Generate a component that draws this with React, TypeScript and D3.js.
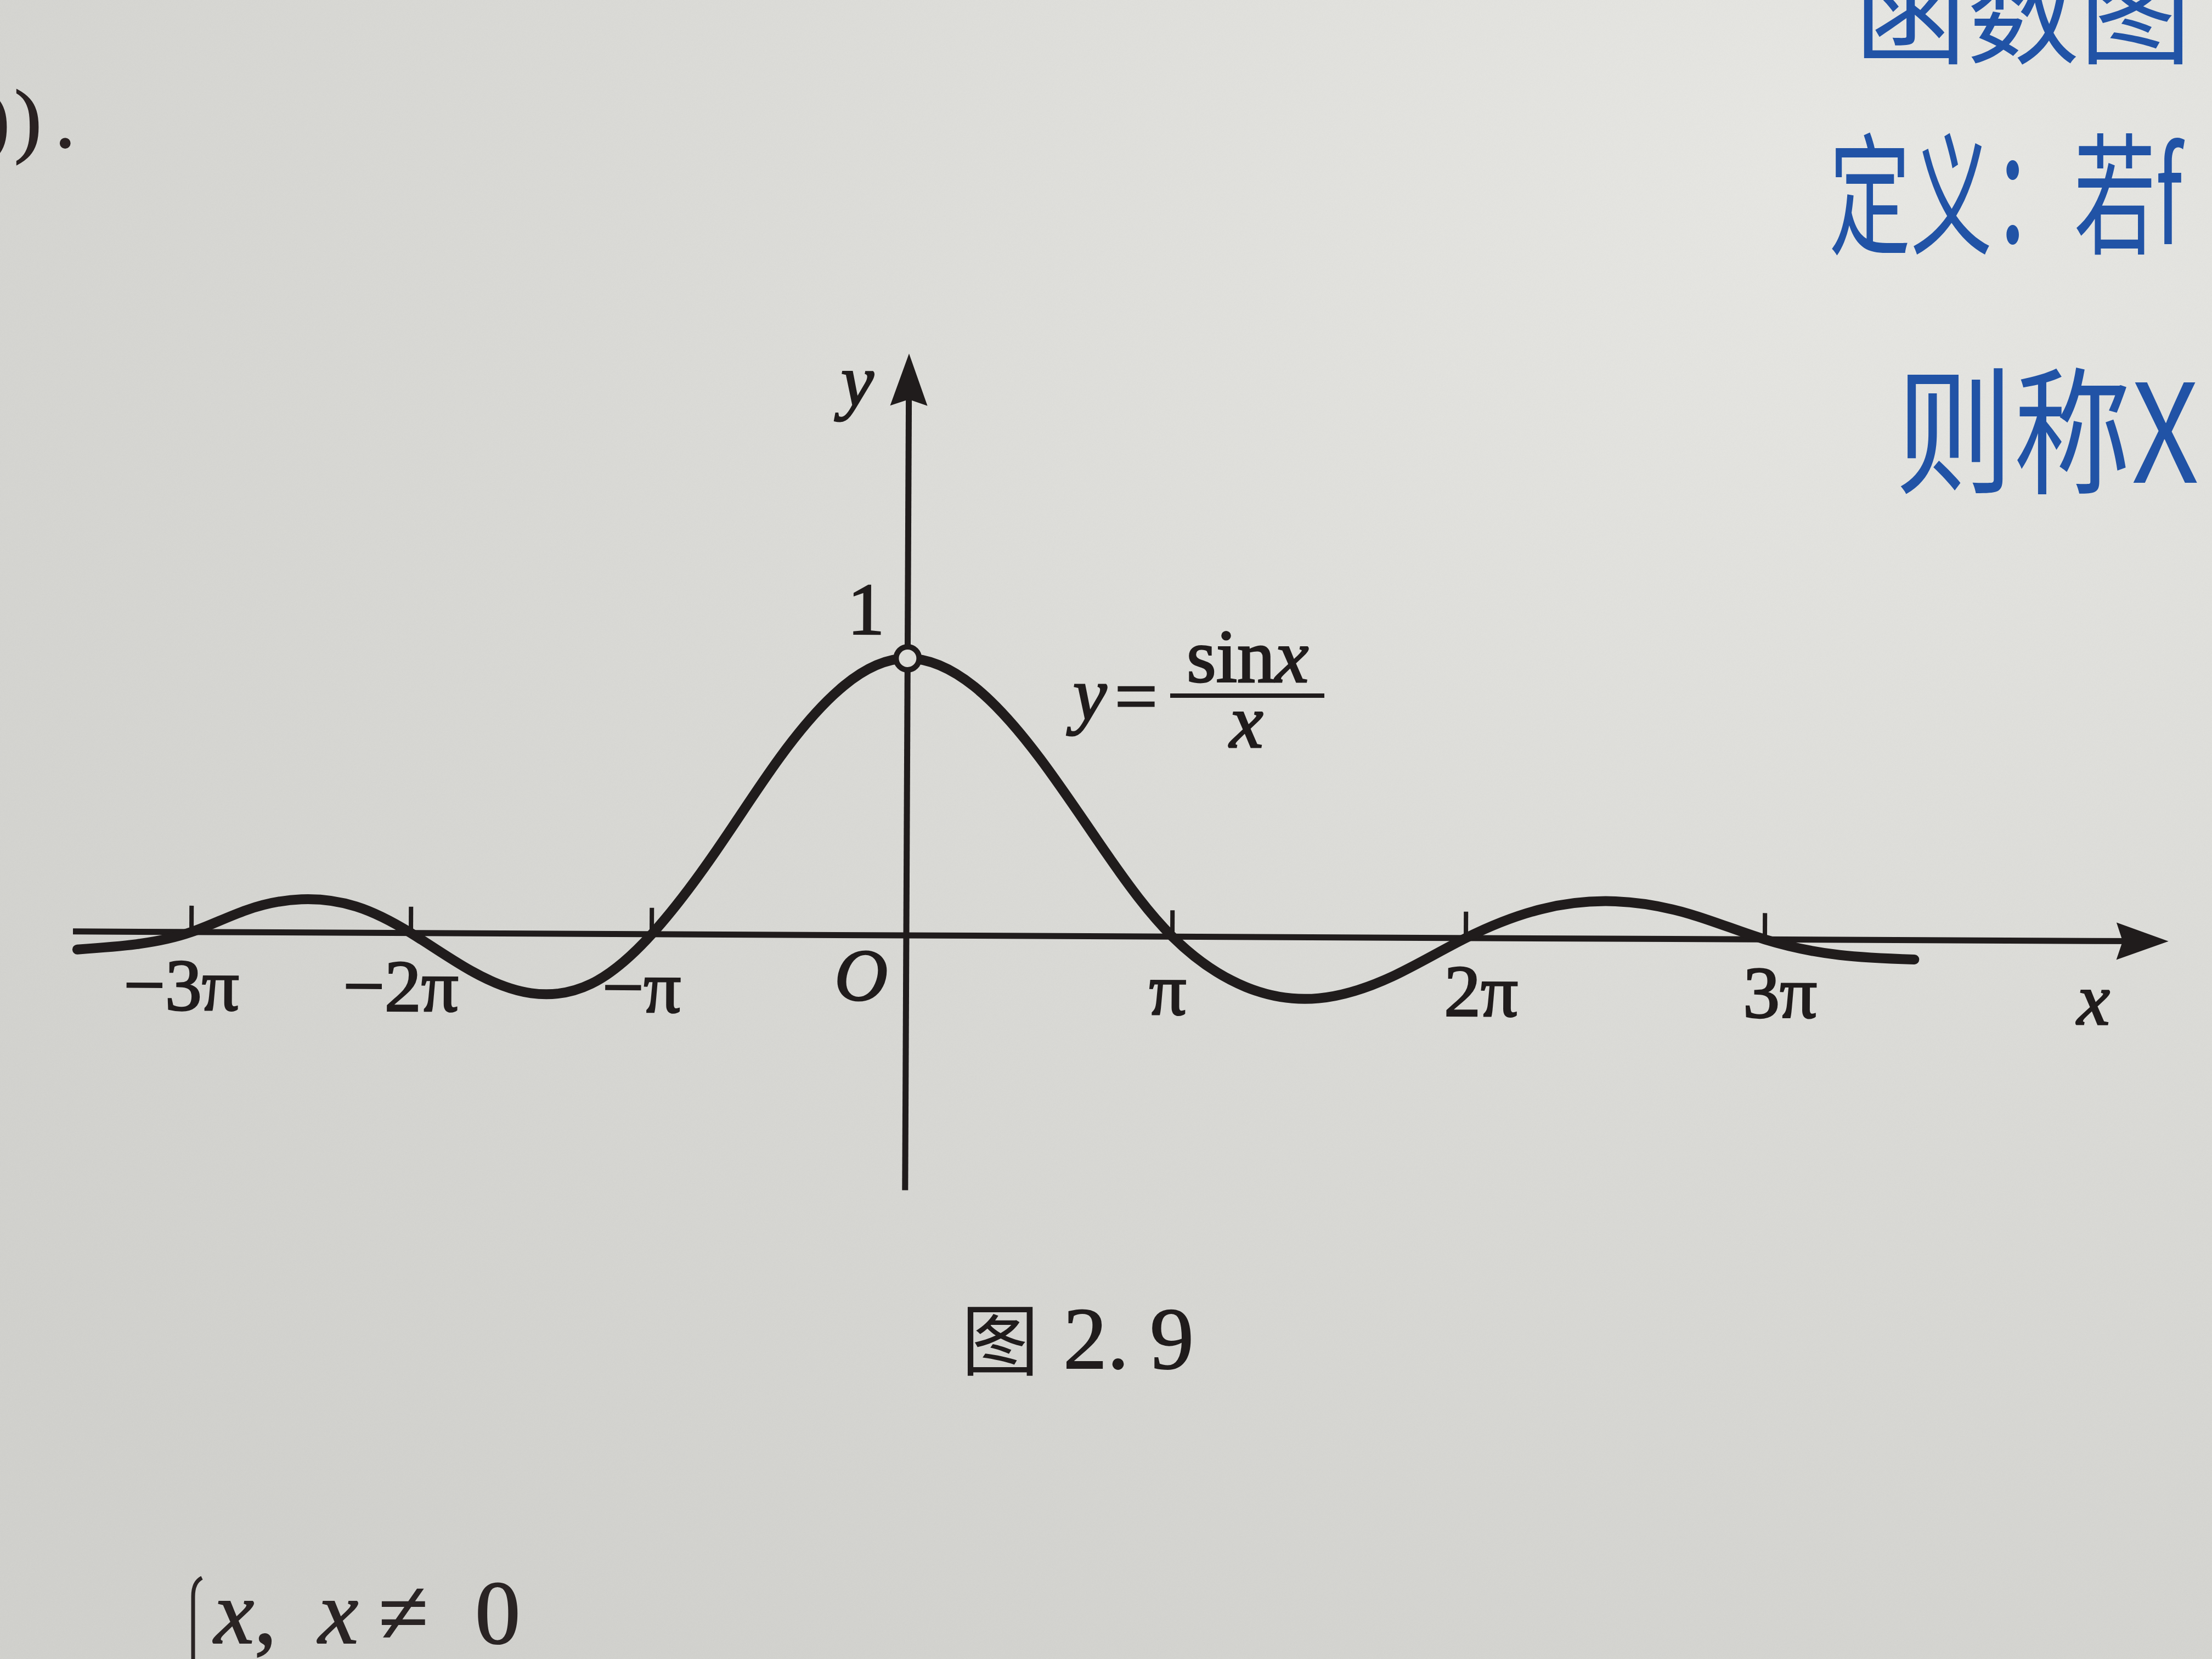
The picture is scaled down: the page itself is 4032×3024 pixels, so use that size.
import { useEffect, useRef } from 'react'
import * as d3 from 'd3'

// curve: x in multiples of π, y = value
const curveX = [-3.52, -3.25, -3, -2.75, -2.5, -2.25, -2, -1.75, -1.5, -1.25, -1, -0.75, -0.5, -0.25, 0, 0.25, 0.5, 0.75, 1, 1.25, 1.5, 1.75, 2, 2.25, 2.5, 2.75, 3, 3.25, 3.5]
const curveY = [-0.065, -0.045, 0, 0.08, 0.12, 0.095, 0, -0.135, -0.215, -0.18, 0, 0.3, 0.64, 0.9, 1, 0.9, 0.64, 0.3, 0, -0.18, -0.22, -0.14, 0, 0.105, 0.135, 0.09, 0, -0.055, -0.07]

// axis ticks (multiples of π) and their labels
const tickMultiples = [-3, -2, -1, 1, 2, 3]
const tickLabels = ['\u22123\u03c0', '\u22122\u03c0', '\u2212\u03c0', '\u03c0', '2\u03c0', '3\u03c0']
const yTickValues = [1]
const yTickLabels = ['1']
const holePoint = [0, 1] // the removed point at x = 0

const xAxisExtent = [-3.54, 4.35]
const yAxisExtent = [-0.92, 2.1]

const W = 4032
const H = 3024
const ink = '#201c1c'
const paper = '#dcdcd8'
const pen = '#2153a6'
const serif = 'Liberation Serif, Tinos, Times New Roman, serif'
const cjk = 'Noto Sans CJK SC, sans-serif'

const App = () => {
  const svgRef = useRef(null)

  useEffect(() => {
    const svgEl = d3.select(svgRef.current)
    svgEl.selectAll('*').remove()

    // paper background
    const defs = svgEl.append('defs')
    const grad = defs
      .append('radialGradient')
      .attr('id', 'paper')
      .attr('cx', '0.85')
      .attr('cy', '0.1')
      .attr('r', '1.1')
    grad.append('stop').attr('offset', '0').attr('stop-color', '#e8e8e4')
    grad.append('stop').attr('offset', '0.55').attr('stop-color', '#dadad6')
    grad.append('stop').attr('offset', '1').attr('stop-color', '#d1d1cd')
    const grain = defs.append('filter').attr('id', 'grain')
    grain
      .append('feTurbulence')
      .attr('type', 'fractalNoise')
      .attr('baseFrequency', '0.6')
      .attr('numOctaves', 2)
      .attr('stitchTiles', 'stitch')
    grain.append('feColorMatrix').attr('type', 'saturate').attr('values', '0')

    svgEl.append('rect').attr('width', W).attr('height', H).attr('fill', 'url(#paper)')
    svgEl
      .append('rect')
      .attr('width', W)
      .attr('height', H)
      .attr('filter', 'url(#grain)')
      .attr('opacity', 0.07)

    // scales: the photo is taken at a slant, so x spacing widens to the right
    const xScale = d3
      .scaleLinear()
      .domain([-3, -2, -1, 0, 1, 2, 3])
      .range([349, 749, 1188, 1652, 2137, 2672, 3217])
    const yScale = d3.scaleLinear().domain([0, 1]).range([1705, 1200])

    const x0 = xScale(0)
    const y0 = yScale(0)
    const chart = svgEl
      .append('g')
      .attr('transform', `rotate(0.27,${x0},${y0})`)
      .style('font-family', serif)
      .attr('fill', ink)

    const arrowLen = 95
    const arrowHalf = 34

    // x axis
    const xEnd = xScale(xAxisExtent[1])
    chart
      .append('line')
      .attr('x1', xScale(xAxisExtent[0]))
      .attr('x2', xEnd - arrowLen / 2)
      .attr('y1', y0)
      .attr('y2', y0)
      .attr('stroke', ink)
      .attr('stroke-width', 11)
    chart
      .append('path')
      .attr('d', `M${xEnd},${y0}L${xEnd - arrowLen},${y0 - arrowHalf}L${xEnd - arrowLen * 0.88},${y0}L${xEnd - arrowLen},${y0 + arrowHalf}Z`)
      .attr('fill', ink)

    // y axis
    const yTop = yScale(yAxisExtent[1])
    chart
      .append('line')
      .attr('x1', x0)
      .attr('x2', x0)
      .attr('y1', yScale(yAxisExtent[0]))
      .attr('y2', yTop + arrowLen / 2)
      .attr('stroke', ink)
      .attr('stroke-width', 11)
    chart
      .append('path')
      .attr('d', `M${x0},${yTop}L${x0 - arrowHalf},${yTop + arrowLen}L${x0},${yTop + arrowLen * 0.88}L${x0 + arrowHalf},${yTop + arrowLen}Z`)
      .attr('fill', ink)

    // ticks
    chart
      .append('g')
      .selectAll('line')
      .data(tickMultiples)
      .join('line')
      .attr('x1', (d) => xScale(d))
      .attr('x2', (d) => xScale(d))
      .attr('y1', y0)
      .attr('y2', y0 - 48)
      .attr('stroke', ink)
      .attr('stroke-width', 8)

    const label = (g) =>
      g
        .attr('stroke', ink)
        .attr('stroke-width', 3)
        .style('font-size', '134px')

    // tick labels
    chart
      .append('g')
      .call(label)
      .selectAll('text')
      .data(tickMultiples)
      .join('text')
      .attr('x', (d) => xScale(d) + (d < 0 ? -18 : d === 1 ? -8 : 28))
      .attr('y', y0 + 142)
      .attr('text-anchor', 'middle')
      .text((d, i) => tickLabels[i])

    chart
      .append('g')
      .call(label)
      .selectAll('text')
      .data(yTickValues)
      .join('text')
      .attr('x', x0 - 76)
      .attr('y', (d) => yScale(d) - 44)
      .attr('text-anchor', 'middle')
      .text((d, i) => yTickLabels[i])

    // origin and axis names
    const names = chart.append('g').call(label).style('font-style', 'italic')
    names
      .append('text')
      .attr('x', x0 - 82)
      .attr('y', y0 + 118)
      .attr('text-anchor', 'middle')
      .text('O')
    names
      .append('text')
      .attr('x', xScale(4.1))
      .attr('y', y0 + 152)
      .attr('text-anchor', 'middle')
      .text('x')
    names
      .append('text')
      .attr('x', x0 - 94)
      .attr('y', yTop + 95)
      .attr('text-anchor', 'middle')
      .text('y')

    // the curve
    const pts = curveX.map((x, i) => [x, curveY[i]])
    const line = d3
      .line()
      .x((d) => xScale(d[0]))
      .y((d) => yScale(d[1]))
      .curve(d3.curveNatural)
    chart
      .append('path')
      .attr('d', line(pts))
      .attr('fill', 'none')
      .attr('stroke', ink)
      .attr('stroke-width', 18)
      .attr('stroke-linecap', 'round')

    // hole at x = 0
    chart
      .append('circle')
      .attr('cx', xScale(holePoint[0]))
      .attr('cy', yScale(holePoint[1]))
      .attr('r', 21)
      .attr('fill', paper)
      .attr('stroke', ink)
      .attr('stroke-width', 10)

    // formula y = sinx / x
    const f = svgEl
      .append('g')
      .style('font-family', serif)
      .style('font-size', '138px')
      .attr('fill', ink)
      .attr('stroke', ink)
      .attr('stroke-width', 3)
    f.append('text').attr('x', 1956).attr('y', 1312).style('font-style', 'italic').text('y')
    f.append('text').attr('x', 2032).attr('y', 1316).text('=')
    f.append('line')
      .attr('x1', 2133)
      .attr('x2', 2414)
      .attr('y1', 1268)
      .attr('y2', 1268)
      .attr('stroke-width', 8)
    const num = f.append('text').attr('x', 2163).attr('y', 1243)
    num.append('tspan').text('sin')
    num.append('tspan').style('font-style', 'italic').text('x')
    f.append('text')
      .attr('x', 2272)
      .attr('y', 1362)
      .attr('text-anchor', 'middle')
      .style('font-style', 'italic')
      .text('x')

    // caption
    svgEl
      .append('text')
      .attr('x', 1752)
      .attr('y', 2496)
      .style('font-family', cjk)
      .style('font-size', '142px')
      .attr('fill', ink)
      .text('图')
    const cap = svgEl
      .append('text')
      .attr('y', 2494)
      .style('font-family', serif)
      .style('font-size', '160px')
      .attr('fill', ink)
      .attr('stroke', ink)
      .attr('stroke-width', 2)
    cap.append('tspan').attr('x', 1938).text('2')
    cap.append('tspan').attr('x', 2018).text('.')
    cap.append('tspan').attr('x', 2096).text('9')

    // bits of the surrounding page
    const topLeft = svgEl
      .append('text')
      .attr('y', 268)
      .style('font-family', serif)
      .style('font-size', '150px')
      .attr('fill', '#2a2222')
      .attr('stroke', '#2a2222')
      .attr('stroke-width', 2)
    topLeft.append('tspan').attr('x', -32).text(')')
    topLeft.append('tspan').attr('x', 26).text(')')
    topLeft.append('tspan').attr('x', 100).text('.')

    const bottom = svgEl
      .append('text')
      .attr('y', 2995)
      .style('font-family', serif)
      .style('font-size', '165px')
      .attr('fill', '#2a2424')
      .attr('stroke', '#2a2424')
      .attr('stroke-width', 2)
    bottom.append('tspan').attr('x', 390).style('font-style', 'italic').text('x')
    bottom.append('tspan').text(',')
    bottom.append('tspan').attr('x', 580).style('font-style', 'italic').text('x')
    bottom.append('tspan').attr('x', 690).text('\u2260')
    bottom.append('tspan').attr('x', 866).text('0')
    svgEl
      .append('path')
      .attr('d', 'M352,3030 L352,2910 Q352,2884 368,2876')
      .attr('fill', 'none')
      .attr('stroke', '#2a2424')
      .attr('stroke-width', 7)

    // handwritten notes, top right
    const note = (txt, x, y, size, sx) =>
      svgEl
        .append('text')
        .attr('transform', `translate(${x},${y}) scale(${sx},1)`)
        .style('font-family', cjk)
        .style('font-size', `${size}px`)
        .style('font-weight', 400)
        .attr('fill', pen)
        .text(txt)
    note('函数图', 3380, 100, 205, 1)
    note('定义：若f', 3334, 445, 240, 0.62)
    note('则称X', 3455, 880, 250, 0.86)
  }, [])

  return (
    <svg
      ref={svgRef}
      width={W}
      height={H}
      style={{ position: 'absolute', left: 0, top: 0, display: 'block' }}
    />
  )
}

export default App
